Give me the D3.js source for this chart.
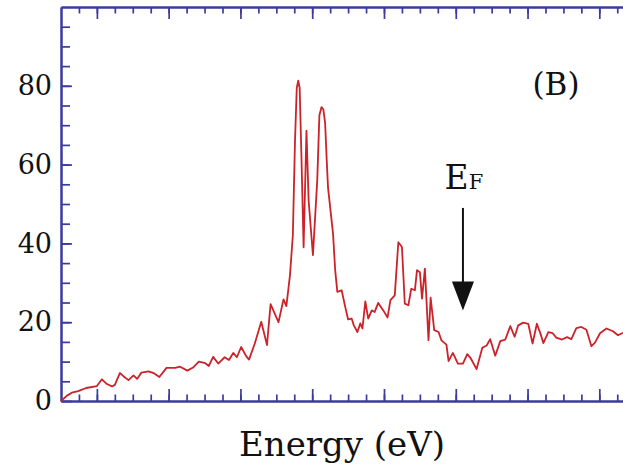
<!DOCTYPE html>
<html>
<head>
<meta charset="utf-8">
<script src="https://cdn.jsdelivr.net/npm/d3@7"></script>
<style>
  html, body { margin: 0; padding: 0; background: #fff; }
  svg { display: block; }
  text { font-family: "DejaVu Serif", "Liberation Serif", serif; fill: #111; }
</style>
</head>
<body>
<div id="chart"></div>
<script>
// spectrum (energy in arbitrary eV units, no labels on the axis)
const energy = [0, 0.08, 0.15, 0.24, 0.35, 0.50, 0.57, 0.64, 0.71, 0.75,
	0.82, 0.87, 0.94, 1.01, 1.06, 1.12, 1.22, 1.29, 1.37, 1.47,
	1.59, 1.66, 1.76, 1.84, 1.92, 2.01, 2.06, 2.12, 2.19, 2.28,
	2.34, 2.40, 2.45, 2.51, 2.58, 2.62, 2.70, 2.79, 2.87, 2.92,
	3.03, 3.10, 3.14, 3.19, 3.23, 3.26, 3.285, 3.305, 3.325, 3.35,
	3.38, 3.42, 3.45, 3.51, 3.57, 3.60, 3.63, 3.655, 3.68, 3.70,
	3.72, 3.79, 3.82, 3.85,
	3.91, 3.96, 4.00, 4.05, 4.08, 4.13, 4.17, 4.20, 4.24, 4.28,
	4.33, 4.37, 4.42, 4.49, 4.55, 4.59, 4.65, 4.70, 4.75, 4.79,
	4.84, 4.88, 4.93, 4.96, 5.00, 5.03, 5.07, 5.12, 5.15, 5.20,
	5.26, 5.30, 5.37, 5.40, 5.46, 5.53, 5.60, 5.66, 5.71, 5.79,
	5.87, 5.93, 5.98, 6.05, 6.12, 6.19, 6.26, 6.32, 6.37, 6.44,
	6.51, 6.57, 6.63, 6.68, 6.72, 6.79, 6.85, 6.90, 6.98, 7.05,
	7.11, 7.18, 7.25, 7.32, 7.39, 7.44, 7.51, 7.60, 7.69, 7.76,
	7.83];

const intensity = [0, 1.3, 2.1, 2.5, 3.3, 3.8, 5.5, 4.3, 3.7, 4.1,
	7.1, 6.3, 5.3, 6.5, 5.6, 7.2, 7.5, 7.1, 6.1, 8.4,
	8.4, 8.7, 7.7, 8.5, 10.0, 9.6, 8.9, 11.2, 9.5, 11.1,
	10.4, 12.2, 11.1, 13.7, 11.4, 10.5, 14.6, 20.1, 14.2, 24.6,
	20.0, 25.8, 24.1, 31.9, 42.0, 66.0, 79.5, 81.3, 79.5, 62.0,
	39.0, 68.6, 50.9, 37.0, 56.0, 72.5, 74.6, 74.0, 70.5, 62.0,
	54.2, 42.5, 33.2, 27.7,
	28.1, 23.9, 20.7, 20.9, 19.2, 17.5, 19.7, 18.4, 25.3, 20.9,
	23.0, 22.6, 24.9, 23.0, 21.2, 25.6, 26.8, 40.3, 39.1, 24.7,
	24.3, 28.5, 28.1, 33.2, 32.7, 26.0, 33.6, 15.4, 26.2, 18.0,
	17.5, 15.4, 14.3, 10.1, 12.2, 9.5, 9.5, 11.9, 10.8, 8.1,
	13.5, 14.1, 15.7, 11.5, 15.2, 15.6, 19.0, 16.3, 19.2, 19.9,
	19.6, 14.6, 19.6, 17.1, 14.7, 17.5, 17.2, 16.1, 15.6, 16.2,
	15.7, 18.5, 18.8, 18.1, 13.9, 14.8, 17.2, 18.4, 17.7, 16.7,
	17.3];

const xDomain = [0, 7.83];
const yDomain = [0, 100];
const yMajorTicks = [0, 20, 40, 60, 80];
const yMinorTicks = d3.range(5, 100, 5);
const xMajorTicks = d3.range(0.5, 7.83, 1);
const xMinorTicks = d3.range(0.25, 7.83, 0.25);
const fermiEnergy = 5.6;
const arrowFrom = 49, arrowTo = 23;
const panelLabel = '(B)';
const xTitle = 'Energy (eV)';

const width = 623, height = 467;
const margins = { left: 61, right: 0, top: 7, bottom: 66 };
const axisColor = '#3b3b9e';
const lineColor = '#cc2229';

const svg = d3.select('#chart').append('svg')
	.attr('width', width)
	.attr('height', height);

const x = d3.scaleLinear()
	.domain(xDomain)
	.range([margins.left, width - margins.right]);

const y = d3.scaleLinear()
	.domain(yDomain)
	.range([height - margins.bottom, margins.top]);

function styleAxis(g) {
	g.select('.domain').attr('stroke', axisColor).attr('stroke-width', 2);
	g.selectAll('.tick line').attr('stroke', axisColor).attr('stroke-width', 1.7);
	g.selectAll('.tick text').attr('font-size', 27).attr('fill', '#111');
}

// ticks all point inwards; minor ones are shorter
function xAxis(gen, values, size) {
	return gen(x).tickValues(values).tickSize(-size).tickSizeOuter(0).tickFormat('');
}

svg.append('g')
	.attr('transform', 'translate(0,' + y(0) + ')')
	.call(xAxis(d3.axisBottom, xMinorTicks, 6.5))
	.call(styleAxis);
svg.append('g')
	.attr('transform', 'translate(0,' + y(0) + ')')
	.call(xAxis(d3.axisBottom, xMajorTicks, 12))
	.call(styleAxis);

svg.append('g')
	.attr('transform', 'translate(0,' + y(100) + ')')
	.call(xAxis(d3.axisTop, xMinorTicks, 6.5))
	.call(styleAxis);
svg.append('g')
	.attr('transform', 'translate(0,' + y(100) + ')')
	.call(xAxis(d3.axisTop, xMajorTicks, 12))
	.call(styleAxis);

svg.append('g')
	.attr('transform', 'translate(' + x(0) + ',0)')
	.call(d3.axisLeft(y).tickValues(yMinorTicks).tickSize(-9).tickSizeOuter(0).tickFormat(''))
	.call(styleAxis);
svg.append('g')
	.attr('transform', 'translate(' + x(0) + ',0)')
	.call(d3.axisLeft(y).tickValues(yMajorTicks).tickSize(-11).tickSizeOuter(0).tickPadding(9).tickFormat(d3.format('d')))
	.call(styleAxis);

// spectrum
const points = energy.map((e, i) => [e, intensity[i]]);
const line = d3.line()
	.x(d => x(d[0]))
	.y(d => y(d[1]));

svg.append('path')
	.datum(points)
	.attr('d', line)
	.attr('fill', 'none')
	.attr('stroke', lineColor)
	.attr('stroke-width', 1.8)
	.attr('stroke-linejoin', 'round');

// Fermi level marker
const ax = x(fermiEnergy);
svg.append('line')
	.attr('x1', ax).attr('x2', ax)
	.attr('y1', y(arrowFrom)).attr('y2', y(arrowTo) - 20)
	.attr('stroke', '#111')
	.attr('stroke-width', 2);
svg.append('path')
	.attr('d', 'M' + (ax - 11) + ',' + (y(arrowTo) - 29) + 'L' + (ax + 11) + ',' + (y(arrowTo) - 29) + 'L' + ax + ',' + y(arrowTo) + 'Z')
	.attr('fill', '#111');

const ef = svg.append('text')
	.attr('x', ax + 1)
	.attr('y', 189)
	.attr('text-anchor', 'middle');
ef.append('tspan').attr('font-size', 33).text('E');
ef.append('tspan').attr('font-size', 21).text('F');

svg.append('text')
	.attr('x', 556)
	.attr('y', 95)
	.attr('text-anchor', 'middle')
	.attr('font-size', 31)
	.text(panelLabel);

svg.append('text')
	.attr('x', 342)
	.attr('y', 456)
	.attr('text-anchor', 'middle')
	.attr('font-size', 34)
	.text(xTitle);
</script>
</body>
</html>
